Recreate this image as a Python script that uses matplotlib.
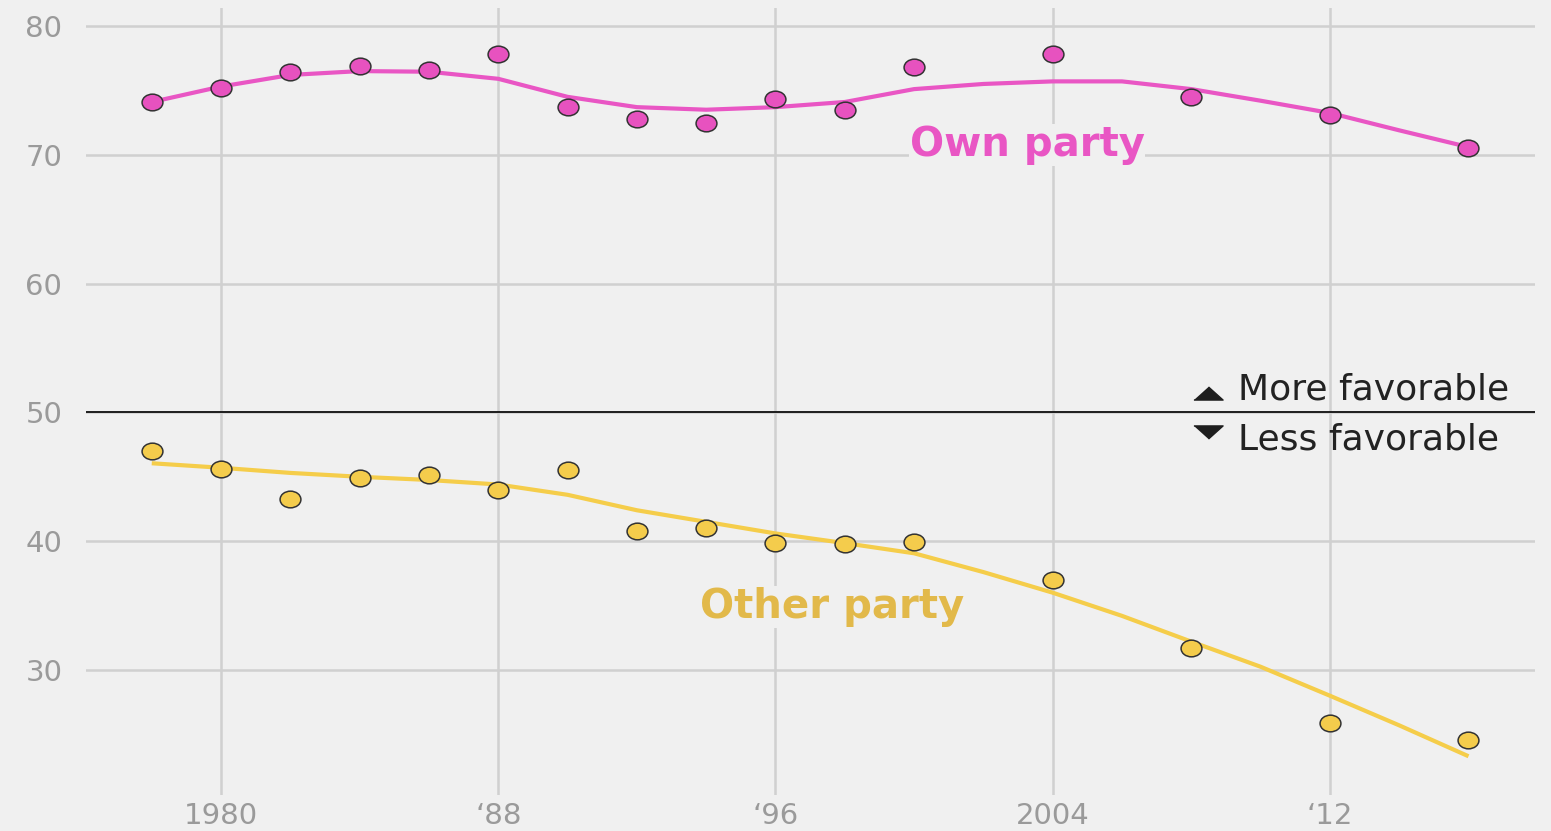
import numpy as np
import matplotlib.pyplot as plt
from matplotlib.path import Path
from matplotlib.transforms import Affine2D

# survey years and average thermometer ratings
years = [1978, 1980, 1982, 1984, 1986, 1988, 1990, 1992, 1994, 1996,
         1998, 2000, 2004, 2008, 2012, 2016]
own_party = [74.1, 75.2, 76.45, 76.9, 76.6, 77.8, 73.7, 72.75, 72.45, 74.3,
             73.5, 76.8, 77.8, 74.5, 73.1, 70.5]
other_party = [47.0, 45.6, 43.3, 44.9, 45.1, 44.0, 45.5, 40.8, 41.0, 39.85,
               39.8, 39.9, 37.0, 31.7, 25.9, 24.6]

# smoothed trend lines, every two years
trend_years = list(range(1978, 2017, 2))
own_trend = [74.1, 75.3, 76.2, 76.5, 76.45, 75.9, 74.5, 73.7, 73.5, 73.7,
             74.1, 75.1, 75.5, 75.7, 75.7, 75.1, 74.2, 73.25, 71.9, 70.6]
other_trend = [46.05, 45.7, 45.3, 45.0, 44.75, 44.4, 43.6, 42.4, 41.5, 40.6,
               39.85, 39.06, 37.6, 36.0, 34.2, 32.2, 30.25, 28.0, 25.7, 23.3]

xticks = [1980, 1988, 1996, 2004, 2012]
xtick_labels = ['1980', '\u201888', '\u201896', '2004', '\u201812']
yticks = [30, 40, 50, 60, 70, 80]

pink = '#e956c4'
pink_dot = '#e752bf'
yellow = '#f5cd4a'
yellow_dot = '#f4cc4c'
bg = '#f0f0f0'

# slightly flattened dots, as in the original
ellipse = Path.unit_circle().transformed(Affine2D().scale(1.0, 0.8))
tri_up = [(-1, -0.45), (1, -0.45), (0, 0.45)]
tri_down = [(-1, 0.45), (1, 0.45), (0, -0.45)]

fig = plt.figure(figsize=(15.51, 8.31), dpi=100, facecolor=bg)
ax = fig.add_axes([0.0554, 0.0433, 0.9343, 0.9471])
ax.set_facecolor(bg)

ax.plot(trend_years, own_trend, color=pink, lw=3.0, solid_capstyle='butt',
        solid_joinstyle='round', zorder=3)
ax.plot(trend_years, other_trend, color=yellow, lw=3.0, solid_capstyle='butt',
        solid_joinstyle='round', zorder=3)
ax.plot(years, own_party, ls='none', marker=ellipse, ms=15, mfc=pink_dot,
        mec='#333333', mew=1.1, zorder=4)
ax.plot(years, other_party, ls='none', marker=ellipse, ms=15, mfc=yellow_dot,
        mec='#333333', mew=1.1, zorder=4)

ax.axhline(50, color='#1e1e1e', lw=1.4, zorder=2)

ax.set_xlim(1976.1, 2017.92)
ax.set_ylim(20.29, 81.4)
ax.set_xticks(xticks)
ax.set_xticklabels(xtick_labels)
ax.set_yticks(yticks)
ax.grid(True, color='#d0d0d0', lw=1.8, zorder=1)
ax.set_axisbelow(True)
for s in ax.spines.values():
    s.set_visible(False)
ax.tick_params(length=0, labelsize=21, labelcolor='#9a9a9a')
ax.tick_params(axis='y', pad=17)
ax.tick_params(axis='x', pad=5)

ax.text(2003.26, 70.76, 'Own party', color=pink, fontsize=29, fontweight='bold',
        ha='center', va='center', zorder=5,
        bbox=dict(facecolor=bg, edgecolor='none', pad=0.5))
ax.text(1997.63, 34.9, 'Other party', color='#e2b94a', fontsize=29, fontweight='bold',
        ha='center', va='center', zorder=5,
        bbox=dict(facecolor=bg, edgecolor='none', pad=0.5))

ax.plot([2008.48], [51.5], marker=tri_up, ms=21, color='#1e1e1e', ls='none')
ax.plot([2008.48], [48.5], marker=tri_down, ms=21, color='#1e1e1e', ls='none')
ax.text(2009.35, 51.74, 'More favorable', color='#222222', fontsize=26,
        ha='left', va='center')
ax.text(2009.35, 47.86, 'Less favorable', color='#222222', fontsize=26,
        ha='left', va='center')

fig.savefig('out.png', dpi=100, facecolor=bg)
